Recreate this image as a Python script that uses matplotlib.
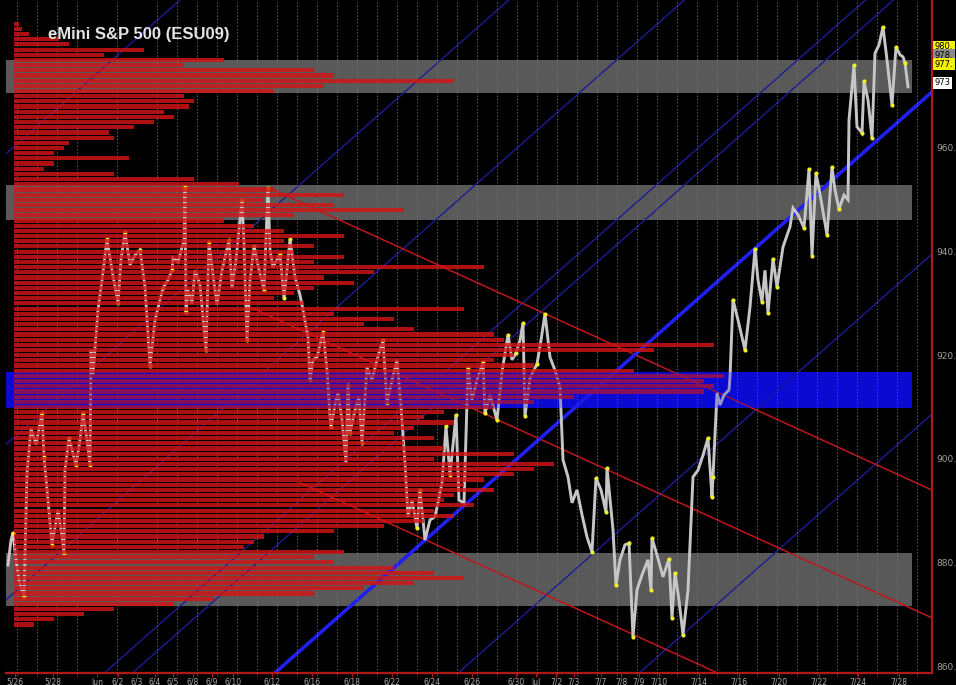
import matplotlib
matplotlib.use('Agg')
import matplotlib.pyplot as plt
import numpy as np
from matplotlib.transforms import blended_transform_factory

# ---------------- data ----------------
# x unit: bar number (20 bars per session) counted from the 5/26 session
tick_pos = [0, 38, 82, 103, 122, 140, 158, 178, 197, 218, 257, 297, 337, 377, 417,
            457, 501, 521, 541, 559, 586, 606, 624, 644, 684, 724, 764, 804, 843, 884]
tick_labels = ['5/26', '5/28', 'Jun', '6/2', '6/3', '6/4', '6/5', '6/8', '6/9', '6/10',
               '6/12', '6/16', '6/18', '6/22', '6/24', '6/26', '6/30', 'Jul', '7/2', '7/3',
               '7/7', '7/8', '7/9', '7/10', '7/14', '7/16', '7/20', '7/22', '7/24', '7/28']

price_ticks = [860, 880, 900, 920, 940, 960]
price_tick_labels = ['860.', '880.', '900.', '920.', '940.', '960.']

bar_t = [-7, -4, -2, 1, 4, 9, 12, 16, 21, 27, 29, 33, 37, 43, 46, 49, 50, 54, 61, 65,
         68, 72, 75, 76, 78, 83, 87, 92, 97, 103, 106, 110, 115, 120, 125, 130, 135, 140,
         145, 148, 153, 157, 158, 163, 169, 170, 171, 173, 177, 180, 185, 191, 194, 198,
         202, 207, 214, 217, 221, 227, 229, 232, 235, 239, 243, 249, 253, 255, 258, 265,
         269, 272, 275, 280, 285, 288, 293, 295, 298, 302, 305, 308, 312, 315, 316, 320,
         323, 327, 331, 333, 335, 340, 344, 347, 352, 357, 362, 368, 372, 377, 382, 386,
         390, 393, 397, 402, 405, 410, 415, 420, 427, 431, 435, 441, 444, 449, 453, 457,
         462, 468, 470, 475, 482, 487, 493, 497, 501, 505, 508, 510, 515, 522, 526, 530,
         535, 540, 545, 548, 553, 557, 562, 567, 572, 577, 581, 586, 591, 592, 598, 601,
         605, 610, 614, 618, 622, 627, 633, 636, 637, 642, 648, 654, 657, 660, 664, 668,
         673, 678, 683, 688, 693, 697, 698, 702, 705, 709, 714, 715, 718, 723, 730, 735,
         740, 743, 747, 750, 753, 758, 762, 768, 775, 778, 783, 789, 794, 797, 801, 806,
         812, 817, 820, 824, 829, 833, 834, 839, 842, 847, 849, 853, 857, 860, 864, 868,
         872, 877, 881, 885, 888, 890, 893]
bar_price = [879.5, 884.3, 885.7, 880.5, 876.6, 873.3, 897.3, 905.9, 902.7, 908.8, 900.3,
             892.0, 883.4, 890.1, 886.3, 881.8, 897.8, 904.0, 898.8, 903.6, 908.8, 903.6,
             898.8, 921.0, 916.2, 928.7, 934.5, 942.4, 936.4, 930.1, 938.4, 943.8, 937.4,
             939.3, 940.3, 933.2, 917.9, 926.8, 930.7, 933.0, 934.5, 936.4, 938.8, 938.0,
             942.2, 952.5, 928.3, 932.6, 929.9, 936.4, 933.6, 921.0, 941.9, 935.5, 929.7,
             936.4, 942.2, 933.0, 938.4, 950.0, 941.3, 922.9, 934.5, 941.1, 937.4, 932.6,
             952.3, 940.3, 937.0, 939.5, 931.0, 936.4, 942.4, 935.1, 931.6, 928.7, 923.5,
             915.2, 919.1, 919.6, 922.0, 924.5, 917.1, 908.1, 906.1, 910.4, 912.7, 907.5,
             899.2, 914.3, 905.0, 909.4, 911.9, 903.1, 917.7, 915.2, 919.1, 922.9, 910.8,
             915.2, 919.1, 910.0, 899.2, 888.8, 892.0, 886.6, 894.0, 884.3, 888.2, 888.8,
             895.3, 906.3, 896.9, 908.5, 892.0, 891.5, 917.5, 911.4, 915.2, 918.7, 908.8,
             912.3, 907.5, 916.8, 923.9, 919.1, 920.4, 922.9, 926.2, 908.3, 915.6, 918.3,
             922.9, 928.0, 919.6, 917.1, 913.9, 899.8, 896.5, 891.5, 894.0, 889.2, 884.9,
             882.0, 896.3, 894.0, 889.7, 898.2, 886.3, 875.6, 880.5, 883.4, 883.7, 865.6,
             874.7, 877.6, 880.5, 874.7, 884.7, 881.4, 877.2, 880.7, 869.3, 878.0, 872.7,
             866.0, 874.7, 896.5, 897.8, 900.7, 904.0, 892.6, 896.5, 912.7, 910.4, 912.3,
             913.3, 915.8, 930.7, 926.8, 921.0, 929.3, 940.5, 934.5, 930.3, 936.4, 928.2,
             938.6, 933.2, 940.9, 944.8, 948.4, 947.1, 944.6, 955.9, 939.2, 955.2, 950.0,
             943.2, 956.3, 951.9, 948.2, 950.9, 950.0, 965.4, 976.0, 964.1, 962.9, 972.9,
             969.3, 961.9, 978.3, 979.9, 983.4, 977.0, 968.3, 979.5, 978.0, 977.6, 976.4,
             971.8]

swing_t = [-2, 9, 27, 29, 37, 49, 54, 61, 68, 75, 92, 103, 110, 125, 135, 148, 157, 170,
           171, 191, 194, 214, 227, 232, 239, 249, 253, 265, 269, 275, 295, 308, 316, 333,
           335, 347, 368, 372, 402, 405, 431, 435, 441, 453, 468, 470, 482, 493, 501, 508,
           510, 522, 530, 577, 581, 591, 592, 601, 614, 618, 636, 637, 654, 657, 660, 668,
           693, 697, 698, 718, 730, 740, 747, 753, 758, 762, 789, 794, 797, 801, 812, 817,
           824, 839, 847, 849, 857, 868, 877, 881, 890]
swing_price = [885.7, 873.3, 908.8, 900.3, 883.4, 881.8, 904.0, 898.8, 908.8, 898.8, 942.4,
               930.1, 943.8, 940.3, 917.9, 933.0, 936.4, 952.5, 928.3, 921.0, 941.9, 942.2,
               950.0, 922.9, 941.1, 932.6, 952.3, 939.5, 931.0, 942.4, 915.2, 924.5, 906.1,
               914.3, 905.0, 903.1, 922.9, 910.8, 886.6, 894.0, 906.3, 896.9, 908.5, 917.5,
               918.7, 908.8, 907.5, 923.9, 920.4, 926.2, 908.3, 918.3, 928.0, 882.0, 896.3,
               889.7, 898.2, 875.6, 883.7, 865.6, 874.7, 884.7, 880.7, 869.3, 878.0, 866.0,
               904.0, 892.6, 896.5, 930.7, 921.0, 940.5, 930.3, 928.2, 938.6, 933.2, 944.6,
               955.9, 939.2, 955.2, 943.2, 956.3, 948.2, 976.0, 962.9, 972.9, 961.9, 983.4,
               968.3, 979.5, 976.4]

# volume profile (price level -> relative volume)
profile_levels = list(range(984, 867, -1))
profile_volume = [5, 8, 15, 45, 55, 130, 90, 210, 170, 300, 320, 440, 310, 260, 170, 180,
                  175, 150, 160, 140, 120, 95, 100, 55, 50, 40, 115, 40, 30, 100, 180, 225,
                  260, 330, 250, 320, 390, 280, 210, 240, 270, 330, 270, 300, 280, 330, 300,
                  470, 360, 310, 340, 300, 280, 260, 290, 450, 320, 380, 350, 400, 480, 490,
                  700, 640, 500, 480, 520, 620, 710, 690, 700, 690, 560, 520, 480, 430, 410,
                  440, 400, 380, 420, 390, 430, 500, 420, 540, 520, 500, 470, 450, 480, 440,
                  430, 460, 420, 440, 410, 370, 320, 250, 240, 230, 330, 300, 320, 380, 420,
                  450, 400, 350, 300, 200, 160, 100, 70, 40, 20]

# support / resistance zones (price ranges)
zone_low = [970.6, 946.1, 909.8, 871.6]
zone_high = [977.0, 952.9, 916.8, 881.8]
zone_colors = ['#595959', '#595959', '#0a0ad2', '#595959']

# ascending channel lines: price at bar 0, common slope (points per bar)
channel_anchor = [960.4, 904.3, 874.3, 843.4, 838.6, 783.0, 752.1]
channel_main_anchor = 814.3
channel_slope = 0.1707

# descending lines: start bar, start price, common slope
down_start_t = [253, 225, 285]
down_start_p = [952.4, 930.2, 895.4]
down_slope = -0.088

flag_values = [979.5, 977.9, 976.2, 972.6]
flag_labels = ['980.', '978.', '977.', '973']
flag_colors = ['#f2f200', '#8c8c8c', '#f2f200', '#ffffff']

# ---------------- figure ----------------
fig = plt.figure(figsize=(9.56, 6.85), dpi=100, facecolor='black')
ax = fig.add_axes([6/956, 12/685, 926/956, 673/685])
ax.set_facecolor('black')
XMIN, XMAX = -9, 917
ax.set_xlim(XMIN, XMAX)
ax.set_ylim(858.65, 988.57)

# zones
for lo, hi, col in zip(zone_low, zone_high, zone_colors):
    ax.fill_between([XMIN, 897], lo, hi, color=col, lw=0, zorder=1)

# grid
ax.set_xticks(np.arange(2, XMAX, 20), minor=True)
ax.grid(which='minor', axis='x', color='#7a7a7a', lw=0.6, ls=(0, (1.5, 2.5)), zorder=1.5)
ax.set_axisbelow(False)

# channel lines
for a in channel_anchor:
    ax.axline((0, a), slope=channel_slope, color='#1c1c96', lw=1.0, zorder=2)
ax.axline((0, channel_main_anchor), slope=channel_slope, color='#1f1ff0', lw=2.6, zorder=2.2)

# descending lines
for t0, p0 in zip(down_start_t, down_start_p):
    ax.plot([t0, XMAX], [p0, p0 + down_slope * (XMAX - t0)], color='#c0161a', lw=1.1, zorder=2)

# price
ax.plot(bar_t, bar_price, color='#c6c6c6', lw=2.1, zorder=3, solid_joinstyle='miter')
ax.scatter(swing_t, swing_price, s=9, color='#f0f028', lw=0, zorder=3.5)

# volume profile
ax.barh(profile_levels, profile_volume, left=-1, height=0.8, color='#d41414',
        alpha=0.82, lw=0, zorder=4)
# blue zone tint over the profile
ax.fill_between([XMIN, 897], zone_low[2], zone_high[2], color=zone_colors[2], alpha=0.25,
                lw=0, zorder=4.5)

# axes styling
for s in ['left', 'top']:
    ax.spines[s].set_visible(False)
for s in ['right', 'bottom']:
    ax.spines[s].set_color('#b01818')
    ax.spines[s].set_linewidth(1.6)
ax.set_xticks(tick_pos)
ax.set_xticklabels(tick_labels)
ax.tick_params(axis='x', which='major', colors='#b01818', length=3, width=0.8, pad=0.5,
               labelsize=5.5, labelcolor='#a8a8a8')
ax.tick_params(axis='x', which='minor', colors='#b01818', length=2, width=0.6)
ax.yaxis.tick_right()
ax.set_yticks(price_ticks)
ax.set_yticklabels(price_tick_labels)
ax.tick_params(axis='y', length=0, pad=3, labelsize=6.5, labelcolor='#a0a0a0')

trans = blended_transform_factory(ax.transAxes, ax.transData)
for v, lab, col in zip(flag_values, flag_labels, flag_colors):
    ax.text(1.003, v, lab, transform=trans, fontsize=6.0, color='black', va='center',
            ha='left', zorder=6, clip_on=False,
            bbox=dict(boxstyle='square,pad=0.2', fc=col, ec='none'))

fig.text(48/956, 1 - 39/685, 'eMini S&P 500 (ESU09)', fontsize=12, fontweight='bold',
         family=['Liberation Sans', 'DejaVu Sans'], color='#e4e4e4', va='baseline', ha='left')

fig.savefig('out.png', dpi=100, facecolor='black')
